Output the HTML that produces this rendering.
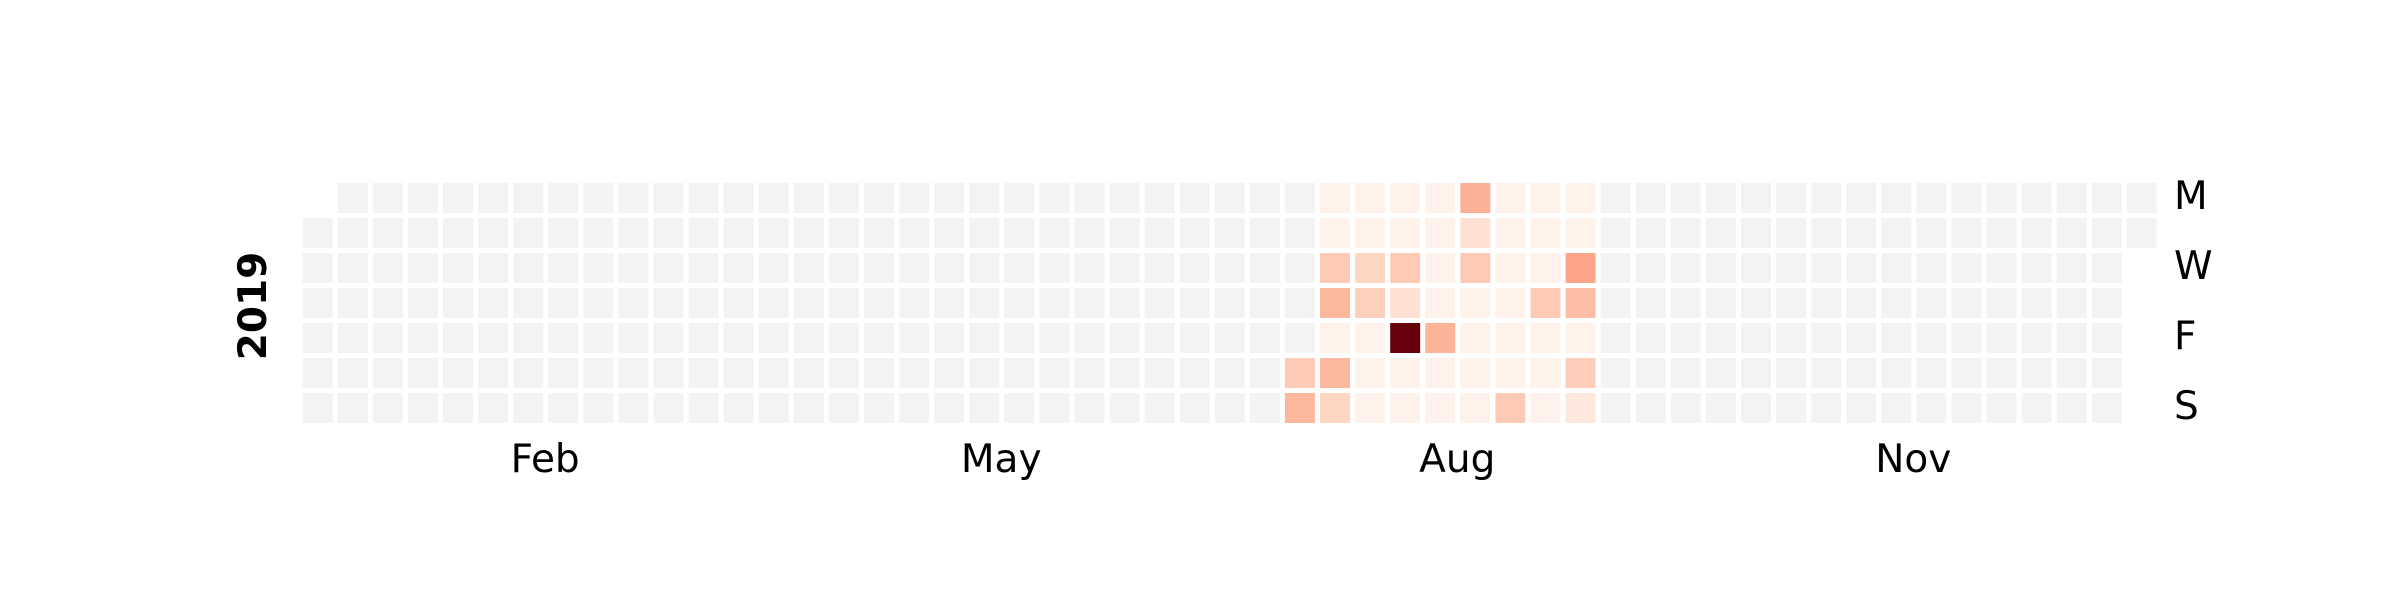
<!DOCTYPE html>
<html><head><meta charset="utf-8"><style>
html,body{margin:0;padding:0;background:#fff;}
svg{display:block;}
text{font-family:"DejaVu Sans","Liberation Sans",sans-serif;fill:#000;}
</style></head><body>
<svg id="chart" width="2400" height="600" viewBox="0 0 2400 600" xmlns="http://www.w3.org/2000/svg">
<g id="cells"></g>
<text x="0" y="0" transform="translate(266,306) rotate(-90)" text-anchor="middle" font-size="39" font-weight="bold">2019</text>
<g id="months"></g>
<g id="days"></g>
</svg>
<script>
const year = 2019;
const dataStart = [2019, 6, 20]; // July 20
const values = [
 0.2,0.26,
 0.02,0.02,0.2,0.26,0.02,0.26,0.16,
 0.02,0.02,0.16,0.18,0.02,0.02,0.02,
 0.02,0.02,0.2,0.12,1.0,0.02,0.02,
 0.02,0.02,0.02,0.02,0.27,0.02,0.02,
 0.28,0.12,0.2,0.02,0.02,0.02,0.02,
 0.02,0.02,0.02,0.02,0.02,0.02,0.2,
 0.02,0.02,0.02,0.2,0.02,0.02,0.02,
 0.02,0.02,0.32,0.24,0.02,0.19,0.08
];
const monthLabels = ["Feb","May","Aug","Nov"];
const monthIdx = [1,4,7,10];
const dayLabels = ["M","W","F","S"];
const dayRows = [0,2,4,6];

const X0=302.7, PITCH_X=35.08, Y0=183, PITCH_Y=35, CELL=30;
const colX = c => X0 + c*PITCH_X;
const rowY = r => Y0 + r*PITCH_Y;
const stops=["fff5f0","fee0d2","fcbba1","fc9272","fb6a4a","ef3b2c","cb181d","a50f15","67000d"].map(h=>[parseInt(h.slice(0,2),16),parseInt(h.slice(2,4),16),parseInt(h.slice(4,6),16)]);
function reds(v){v=Math.max(0,Math.min(1,v));const t=v*8,i=Math.min(7,Math.floor(t)),f=t-i;
 const c=stops[i].map((a,k)=>Math.round(a+(stops[i+1][k]-a)*f));return `rgb(${c[0]},${c[1]},${c[2]})`;}
const NS="http://www.w3.org/2000/svg";
const jan1=Date.UTC(year,0,1);
const firstDow=(new Date(jan1).getUTCDay()+6)%7; // Monday=0
const startIdx=Math.round((Date.UTC(...dataStart)-jan1)/864e5);
const cells=document.getElementById('cells');
function pos(d){const k=d+firstDow;return [Math.floor(k/7),k%7];}
for(let d=0;d<365;d++){
 const [c,r]=pos(d);
 const rect=document.createElementNS(NS,'rect');
 
 
 rect.setAttribute('x',colX(c));rect.setAttribute('y',rowY(r));
 rect.setAttribute('width',CELL);rect.setAttribute('height',CELL);
 const vi=d-startIdx;
 rect.setAttribute('fill',(vi>=0&&vi<values.length)?reds(values[vi]):'#f3f3f3');
 cells.appendChild(rect);
}
const months=document.getElementById('months');
monthLabels.forEach((m,i)=>{
 const s=Math.round((Date.UTC(year,monthIdx[i],1)-jan1)/864e5);
 const e=Math.round((Date.UTC(year,monthIdx[i]+1,1)-jan1)/864e5)-1;
 const cx=(colX(pos(s)[0])+colX(pos(e)[0])+CELL)/2+17;
 const t=document.createElementNS(NS,'text');
 
 
 t.setAttribute('x',cx);t.setAttribute('y',472);
 t.setAttribute('text-anchor','middle');t.setAttribute('font-size','39');
 t.textContent=m;months.appendChild(t);
});
const days=document.getElementById('days');
dayLabels.forEach((l,i)=>{
 const t=document.createElementNS(NS,'text');
 
 
 t.setAttribute('x',2174);t.setAttribute('y',rowY(dayRows[i])+26);
 t.setAttribute('font-size','39');
 t.textContent=l;days.appendChild(t);
});
</script>
</body></html>
